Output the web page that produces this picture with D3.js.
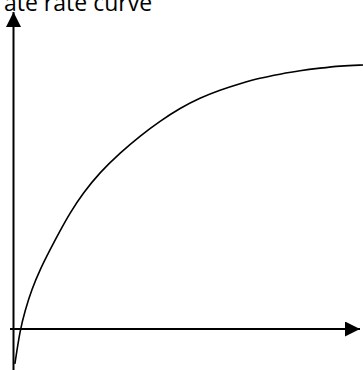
<!DOCTYPE html>
<html>
<head>
<meta charset="utf-8">
<script src="https://cdn.jsdelivr.net/npm/d3@7"></script>
<style>
  body { margin: 0; background: #fff; }
  svg { display: block; }
</style>
</head>
<body>
<div id="chart-area"></div>
<script>
// substrate vs rate (arbitrary units)
var substrate = [0.04, 0.19, 0.33, 0.53, 0.76, 1.05, 1.34, 1.63, 2.01, 2.50, 3.07, 3.65,
                 4.23, 4.81, 5.38, 5.96, 6.54, 7.11, 7.69, 8.27, 8.85, 9.42, 10.09]
var rate      = [-1.10, -0.03, 0.57, 1.26, 1.86, 2.49, 3.09, 3.66, 4.29, 4.95, 5.55, 6.09,
                 6.56, 6.97, 7.29, 7.54, 7.74, 7.92, 8.04, 8.15, 8.23, 8.30, 8.33]
var titleText = "ate rate curve"

var width = 363, height = 370

var svg = d3.select("#chart-area")
    .append("svg")
    .attr("width", width)
    .attr("height", height)

var x = d3.scaleLinear()
    .domain([0, 10])
    .range([13.5, 360])
var y = d3.scaleLinear()
    .domain([0, 10])
    .range([329, 12])

var data = substrate.map((s, i) => ({ s: s, r: rate[i] }))

// title, cut off by the top edge as in the original
svg.append("text")
    .attr("x", 4)
    .attr("y", 11)
    .attr("font-family", "Open Sans")
    .attr("font-size", "23px")
    .attr("fill", "#000")
    .text(titleText)

svg.append("defs").append("marker")
    .attr("id", "arrow")
    .attr("viewBox", "0 0 10 10")
    .attr("refX", 10)
    .attr("refY", 5)
    .attr("markerUnits", "userSpaceOnUse")
    .attr("markerWidth", 16)
    .attr("markerHeight", 15)
    .attr("orient", "auto")
    .append("path")
    .attr("d", "M0,0L10,5L0,10Z")
    .attr("fill", "#000")

// y axis, runs below the origin to the bottom edge
svg.append("line")
    .attr("x1", x(0)).attr("y1", height)
    .attr("x2", x(0)).attr("y2", y(10))
    .attr("stroke", "#000")
    .attr("stroke-width", 2)
    .attr("marker-end", "url(#arrow)")

// x axis
svg.append("line")
    .attr("x1", x(0) - 3.5).attr("y1", y(0))
    .attr("x2", x(10)).attr("y2", y(0))
    .attr("stroke", "#000")
    .attr("stroke-width", 2)
    .attr("marker-end", "url(#arrow)")

var line = d3.line()
    .x(d => x(d.s))
    .y(d => y(d.r))
    .curve(d3.curveBasis)

svg.append("path")
    .datum(data)
    .attr("d", line)
    .attr("fill", "none")
    .attr("stroke", "#000")
    .attr("stroke-width", 1.6)
</script>
</body>
</html>
